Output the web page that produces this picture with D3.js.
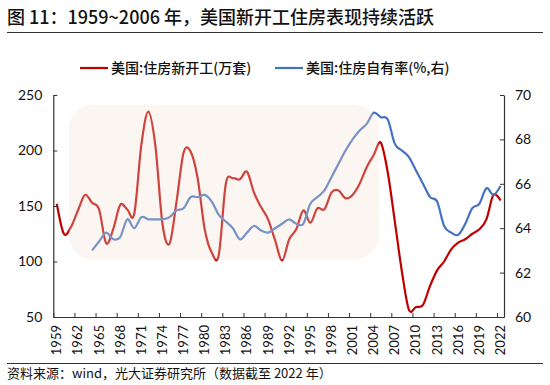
<!DOCTYPE html>
<html><head><meta charset="utf-8">
<script src="https://cdn.jsdelivr.net/npm/d3@7"></script>
<style>
html,body{margin:0;padding:0;background:#fff;}
svg{display:block;}
text{font-family:"Noto Sans CJK SC","Noto Sans",sans-serif;}
.num{font-family:Lato,"Liberation Sans",sans-serif;}
</style></head>
<body>
<svg id="c" width="550" height="385"></svg>
<script>
const title = "图 11：1959~2006 年，美国新开工住房表现持续活跃";
const source = "资料来源：wind，光大证券研究所（数据截至 2022 年）";
const seriesNames = ["美国:住房新开工(万套)", "美国:住房自有率(%,右)"];

const startsYears = d3.range(1959, 2023);
const starts = [152,125,131,146,160,153,147,116.5,129,151,147,143,205,235,204,134,116,154,198,199,
  175,129,108,106,170,175,174,181,162,149,138,119,101,120,129,146,135,148,147,162,
  164,157,160,170,185,196,207,180,136,91,56.5,59,61,78,92,100,111,117,120,125,
  129,138,160,155];

const ownYears = d3.range(1964, 2023);
const ownership = [63.0,63.4,63.8,63.5,63.6,64.4,64.0,64.5,64.4,64.4,64.4,64.5,64.8,64.9,65.4,65.4,
  65.5,65.2,64.6,64.3,64.0,63.5,63.8,64.1,63.9,63.8,64.0,64.2,64.4,64.2,64.2,65.1,
  65.4,65.7,66.3,66.9,67.5,68.0,68.4,68.7,69.2,69.0,68.9,67.8,67.5,67.2,66.6,66.0,
  65.4,65.2,64.1,63.8,63.7,64.2,64.9,65.1,65.8,65.5,65.9];

const leftTicks = [50,100,150,200,250];
const rightTicks = [60,62,64,66,68,70];
const xLabelYears = d3.range(1959, 2023, 3);

const svg = d3.select("#c");
const L = 53.3, R = 504, T = 95, B = 317;

const x = d3.scaleLinear().domain([1958.5, 2022.5]).range([L, R]);
const yL = d3.scaleLinear().domain([50, 250]).range([B, T]);
const yR = d3.scaleLinear().domain([60, 70]).range([B, T]);

// title
svg.append("text").attr("x", 7).attr("y", 24).attr("font-size", 18).attr("fill", "#111")
  .attr("font-weight", 500).text(title);
svg.append("line").attr("x1", 7).attr("x2", 543).attr("y1", 32.5).attr("y2", 32.5)
  .attr("stroke", "#333").attr("stroke-width", 1);

// legend
const lg = svg.append("g");
const legendItems = [
  {name: seriesNames[0], color: "#c00000", x: 80},
  {name: seriesNames[1], color: "#4472c4", x: 275}
];
legendItems.forEach(d => {
  lg.append("line").attr("x1", d.x).attr("x2", d.x + 28).attr("y1", 68).attr("y2", 68)
    .attr("stroke", d.color).attr("stroke-width", 2.2);
  lg.append("text").attr("x", d.x + 31).attr("y", 73).attr("font-size", 14)
    .attr("fill", "#111").attr("font-weight", 500).text(d.name);
});

// lines
const curve = d3.curveCardinal.tension(0);
const lineL = d3.line().x(d => x(d[0])).y(d => yL(d[1])).curve(curve);
const lineR = d3.line().x(d => x(d[0])).y(d => yR(d[1])).curve(curve);

svg.append("path").datum(d3.zip(startsYears, starts)).attr("d", lineL)
  .attr("fill", "none").attr("stroke", "#c00000").attr("stroke-width", 2.2);
svg.append("path").datum(d3.zip(ownYears, ownership)).attr("d", lineR)
  .attr("fill", "none").attr("stroke", "#4472c4").attr("stroke-width", 2.2);

// highlight box over lines
svg.append("rect").attr("x", x(1960.7)).attr("y", yL(241.5))
  .attr("width", x(2004.7) - x(1960.7)).attr("height", yL(101.5) - yL(241.5))
  .attr("rx", 25).attr("ry", 25)
  .attr("fill", "#f3e2d2").attr("fill-opacity", 0.3);

// axes
const axL = d3.axisLeft(yL).tickValues(leftTicks).tickSizeInner(-4).tickSizeOuter(0).tickPadding(11);
const axR = d3.axisRight(yR).tickValues(rightTicks).tickSizeInner(-4).tickSizeOuter(0).tickPadding(11);
const axB = d3.axisBottom(x).tickValues(xLabelYears.map(v => v - 0.5)).tickSizeInner(-4)
  .tickSizeOuter(0).tickFormat("");

function style(g){
  g.select(".domain").attr("stroke", "#333").attr("stroke-width", 1.2);
  g.selectAll(".tick line").attr("stroke", "#333").attr("stroke-width", 1);
  g.selectAll("text").attr("class", "num").attr("font-size", 14).attr("fill", "#111");
}
svg.append("g").attr("transform", `translate(${L},0)`).call(axL).call(style);
svg.append("g").attr("transform", `translate(${R},0)`).call(axR).call(style);
svg.append("g").attr("transform", `translate(0,${B})`).call(axB).call(style);

svg.append("g").selectAll("text").data(xLabelYears).join("text")
  .attr("class", "num")
  .attr("transform", d => `translate(${x(d) + 4.5},${B + 8}) rotate(-90)`)
  .attr("text-anchor", "end").attr("font-size", 13).attr("fill", "#111")
  .text(d => d);

// footer
svg.append("line").attr("x1", 7).attr("x2", 543).attr("y1", 363.5).attr("y2", 363.5)
  .attr("stroke", "#333").attr("stroke-width", 1);
svg.append("text").attr("x", 7).attr("y", 378).attr("font-size", 13).attr("fill", "#111")
  .text(source);
</script>
</body></html>
